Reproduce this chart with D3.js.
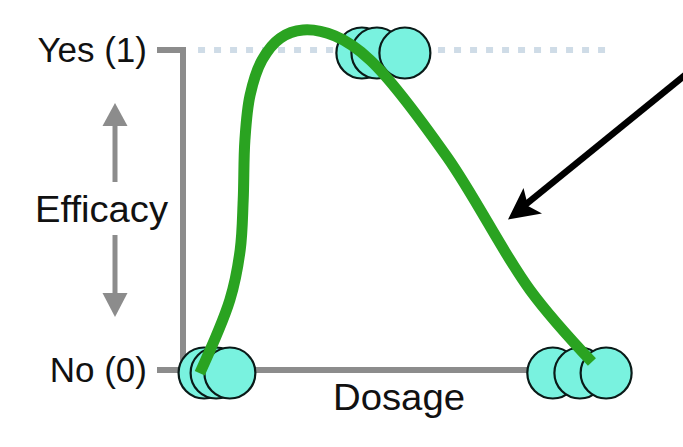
<!DOCTYPE html>
<html><head><meta charset="utf-8">
<script src="https://cdn.jsdelivr.net/npm/d3@7"></script>
<style>html,body{margin:0;padding:0;background:#fff;}svg{display:block;font-family:"Liberation Sans",Arial,Helvetica,sans-serif;}</style>
</head><body>
<svg id="c" width="683" height="447"></svg>
<script>
// Data
const yTickLabels = ["No (0)", "Yes (1)"];
const yTickValues = [0, 1];
const xLabel = "Dosage";
const yLabel = "Efficacy";
const lowDose = [4.9, 7.7, 10.9];      // not effective
const lowEff = [0, 0, 0];
const midDose = [41.6, 45.1, 51.6];    // effective
const midEff = [1, 1, 1];
const highDose = [86.0, 92.3, 98.4];   // not effective
const highEff = [0, 0, 0];
const curveDose = [3.9, 10.9, 13.3, 14.0, 14.4, 15.6, 18.4, 22.6, 27.9, 35.3, 43.5, 61.4, 80.7, 95.1];
const curveEff  = [-0.01, 0.219, 0.375, 0.531, 0.719, 0.859, 0.969, 1.037, 1.0625, 1.044, 0.969, 0.666, 0.25, 0.025];

const svg = d3.select("#c");
const x = d3.scaleLinear().domain([0, 100]).range([183, 613]);
const y = d3.scaleLinear().domain([0, 1]).range([370, 50]);

// dotted reference line at efficacy 1
svg.append("line")
  .attr("x1", x(3.5)).attr("x2", x(100)).attr("y1", y(1)).attr("y2", y(1))
  .attr("stroke", "#cfdce7").attr("stroke-width", 6).attr("stroke-dasharray", "7,9");

// axes
const gray = "#8c8c8c";
svg.append("path")
  .attr("d", `M${x(0)-26},${y(1)}H${x(0)}V${y(0)}`)
  .attr("fill", "none").attr("stroke", gray).attr("stroke-width", 6).attr("stroke-linejoin", "miter");
svg.append("path")
  .attr("d", `M${x(0)-26},${y(0)}H${x(highDose[0])}`)
  .attr("fill", "none").attr("stroke", gray).attr("stroke-width", 6);

// tick labels
svg.selectAll("text.ytick").data(yTickValues).enter().append("text")
  .attr("class", "ytick")
  .attr("x", x(0) - 36).attr("y", d => y(d) + 12)
  .attr("text-anchor", "end").attr("font-size", 35).attr("fill", "#111")
  .text((d, i) => yTickLabels[i]);

svg.append("text").attr("x", 399).attr("y", y(0) + 40)
  .attr("text-anchor", "middle").attr("font-size", 36).attr("fill", "#111")
  .attr("textLength", 132).attr("lengthAdjust", "spacingAndGlyphs").text(xLabel);

svg.append("text").attr("x", 101.5).attr("y", y(0.5) + 12)
  .attr("text-anchor", "middle").attr("font-size", 36).attr("fill", "#111")
  .attr("textLength", 133).attr("lengthAdjust", "spacingAndGlyphs").text(yLabel);

// efficacy arrows
const ax = 115;
svg.append("line").attr("x1", ax).attr("x2", ax).attr("y1", 182).attr("y2", 120)
  .attr("stroke", gray).attr("stroke-width", 5);
svg.append("path").attr("d", `M${ax},103L${ax+12.5},126L${ax-12.5},126Z`).attr("fill", gray);
svg.append("line").attr("x1", ax).attr("x2", ax).attr("y1", 235).attr("y2", 298)
  .attr("stroke", gray).attr("stroke-width", 5);
svg.append("path").attr("d", `M${ax},317L${ax+12.5},293L${ax-12.5},293Z`).attr("fill", gray);

// points
const pts = [];
[[lowDose, lowEff], [midDose, midEff], [highDose, highEff]].forEach(([ds, es]) => {
  ds.forEach((d, i) => pts.push({d, e: es[i]}));
});
svg.selectAll("circle.pt").data(pts).enter().append("circle")
  .attr("class", "pt")
  .attr("cx", p => x(p.d)).attr("cy", p => y(p.e) + 3)
  .attr("r", 25.5)
  .attr("fill", "#79f2df").attr("stroke", "#0a1a18").attr("stroke-width", 2.2);

// green curve
const line = d3.line().x(d => x(d[0])).y(d => y(d[1])).curve(d3.curveCatmullRom.alpha(0.5));
svg.append("path")
  .datum(curveDose.map((d, i) => [d, curveEff[i]]))
  .attr("d", line)
  .attr("fill", "none").attr("stroke", "#2aa321").attr("stroke-width", 11).attr("stroke-linecap", "butt");

// black pointer arrow
svg.append("line").attr("x1", 690).attr("y1", 71).attr("x2", 522).attr("y2", 207.5)
  .attr("stroke", "#000").attr("stroke-width", 6.5);
svg.append("path").attr("d", "M508,219.5L523.5,188L528,206L542,213.5Z").attr("fill", "#000");
</script>
</body></html>
